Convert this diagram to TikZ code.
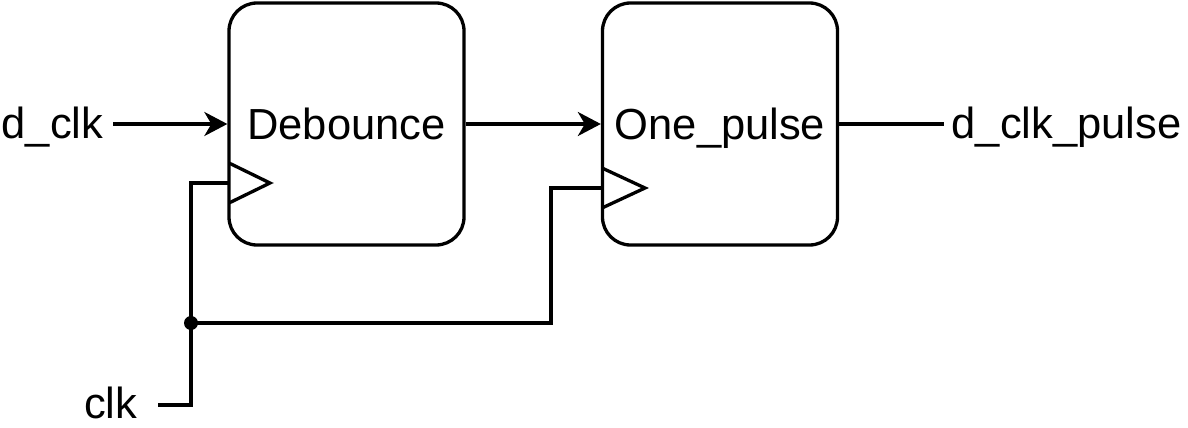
\documentclass[tikz,border=0pt]{standalone}
\usepackage{fontspec}
\setmainfont{Liberation Sans}
\usetikzlibrary{arrows.meta}
\begin{document}
\begin{tikzpicture}[x=1pt,y=-1pt,
  line width=3.3pt,
  blockbox/.style={draw, rounded corners=28pt, minimum width=235pt, minimum height=242pt,
    inner sep=0pt, text height=31pt, text depth=0pt, font=\fontsize{43.5}{50}\selectfont},
  sig/.style={inner sep=0pt, font=\fontsize{43.5}{50}\selectfont},
  wire/.style={line width=3.3pt},
  arr/.style={wire, -{Stealth[length=23pt,width=24pt,inset=7pt]}},
  clktri/.style={line width=3.3pt, line join=miter}]
\useasboundingbox (0,0) rectangle (1188,428);

% the two blocks
\node[blockbox] (deb) at (346.5,124) {Debounce};
\node[blockbox] (one) at (720,124) {One\_pulse};

% clock input triangles on the left edges
\draw[clktri] (229,163) -- (270,183) -- (229,203);
\draw[clktri] (602,168) -- (645,188) -- (602,208);
\coordinate (ckdeb) at (229,183);
\coordinate (ckone) at (602,188);

% port labels
\node[sig, anchor=base east] (dclk) at (105,138) {d\_clk};
\node[sig, anchor=base west] (dout) at (950,138) {d\_clk\_pulse};
\node[sig, anchor=base east] (clk) at (139,418) {clk};

% data path
\coordinate (dclkend) at (113,124);
\draw[arr] (dclkend) -- (deb.west);
\draw[arr] (deb.east) -- (one.west);
\coordinate (outend) at (944,124);
\draw[wire] (one.east) -- (outend);

% clock distribution
\coordinate (clkend) at (158,405);
\coordinate (j) at (191,323);
\coordinate (bend) at (551,323);
\draw[wire] (clkend) -| (j) |- (ckdeb);
\draw[wire] (j) -- (bend) |- (ckone);
\fill (j) circle (7pt);
\end{tikzpicture}
\end{document}
